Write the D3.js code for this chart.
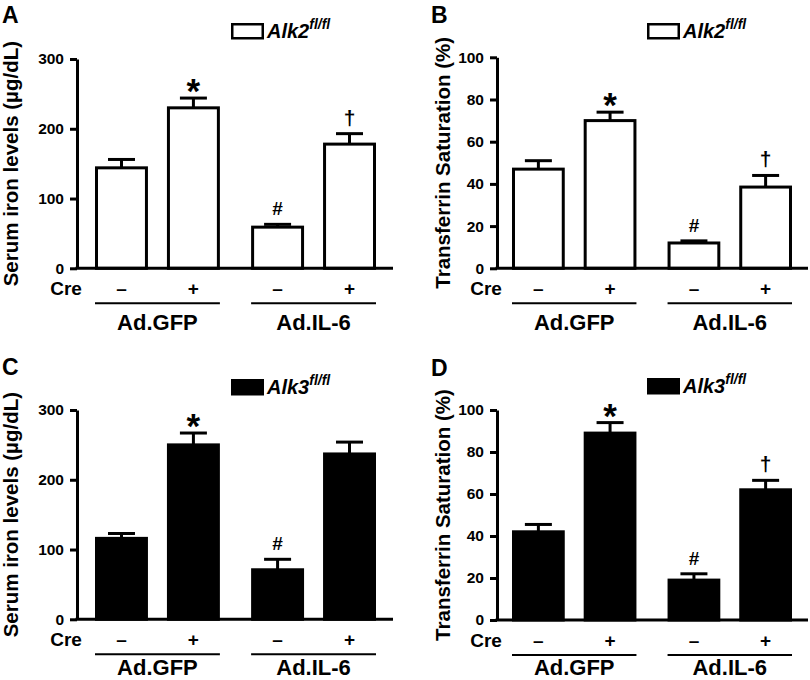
<!DOCTYPE html>
<html><head><meta charset="utf-8">
<script src="https://cdn.jsdelivr.net/npm/d3@7"></script>
<style>body{margin:0;background:#fff} text{font-family:"Liberation Sans",Arial,Helvetica,sans-serif;font-weight:bold;fill:#000}</style>
</head><body><svg id="c" width="810" height="680"></svg>
<script>
// ---- data ----
const groups = ["Ad.GFP", "Ad.IL-6"];
const creLevels = ["–", "+"];
const serumAlk2 = [144, 230, 59, 178];
const serumAlk2Err = [12, 14, 4, 15];
const tsatAlk2 = [47, 70, 12, 38.5];
const tsatAlk2Err = [4, 4, 1, 5.5];
const serumAlk3 = [116, 250, 71, 237];
const serumAlk3Err = [7, 17, 15, 17];
const tsatAlk3 = [42, 89, 19, 62];
const tsatAlk3Err = [3.5, 5, 3, 4.5];
const marksA = ["", "*", "#", "†"];
const marksB = ["", "*", "#", "†"];
const marksC = ["", "*", "#", ""];
const marksD = ["", "*", "#", "†"];
const serumTicks = [0, 100, 200, 300];
const tsatTicks = [0, 20, 40, 60, 80, 100];

// ---- layout ----
const panels = [
  {letter:"A", values:serumAlk2, errs:serumAlk2Err, marks:marksA, fill:"#fff", gene:"Alk2", ticks:serumTicks,
   title:"Serum iron levels (µg/dL)", ax:77, bx0:95, bx1:376, y0:268.3, yTop:59, xEnd:393, leg:[231,23], lp:[2,23], tx:18, gy:62},
  {letter:"B", values:tsatAlk2, errs:tsatAlk2Err, marks:marksB, fill:"#fff", gene:"Alk2", ticks:tsatTicks,
   title:"Transferrin Saturation (%)", ax:497, bx0:512, bx1:792, y0:268.3, yTop:57.3, xEnd:808, leg:[647,23], lp:[431,23], tx:450, gy:62},
  {letter:"C", values:serumAlk3, errs:serumAlk3Err, marks:marksC, fill:"#000", gene:"Alk3", ticks:serumTicks,
   title:"Serum iron levels (µg/dL)", ax:77, bx0:95, bx1:376, y0:619.3, yTop:410, xEnd:393, leg:[231,379], lp:[2,375], tx:18, gy:56},
  {letter:"D", values:tsatAlk3, errs:tsatAlk3Err, marks:marksD, fill:"#000", gene:"Alk3", ticks:tsatTicks,
   title:"Transferrin Saturation (%)", ax:497, bx0:512, bx1:792, y0:620, yTop:410, xEnd:808, leg:[647,378], lp:[431,376], tx:450, gy:55}
];

const svg = d3.select("#c");

panels.forEach(p => {
  const g = svg.append("g");
  const y = d3.scaleLinear().domain([0, d3.max(p.ticks)]).range([p.y0, p.yTop]);
  const xG = d3.scaleBand().domain(groups).range([p.bx0, p.bx1]).paddingInner(0.2);
  const xC = d3.scaleBand().domain(creLevels).range([0, xG.bandwidth()]).paddingInner(0.264);
  const bw = xC.bandwidth();
  const rows = p.values.map((v, i) => ({v, e:p.errs[i], m:p.marks[i], grp:groups[Math.floor(i/2)], cre:creLevels[i%2]}));
  const cx = d => xG(d.grp) + xC(d.cre) + bw/2;

  // error bars (upward only)
  g.selectAll(".eb").data(rows).enter().append("line")
    .attr("x1", cx).attr("x2", cx).attr("y1", d => y(d.v)).attr("y2", d => y(d.v + d.e))
    .attr("stroke", "#000").attr("stroke-width", 3);
  g.selectAll(".cap").data(rows).enter().append("line")
    .attr("x1", d => cx(d) - 13.5).attr("x2", d => cx(d) + 13.5)
    .attr("y1", d => y(d.v + d.e)).attr("y2", d => y(d.v + d.e))
    .attr("stroke", "#000").attr("stroke-width", 3);

  // bars
  g.selectAll(".bar").data(rows).enter().append("rect")
    .attr("x", d => xG(d.grp) + xC(d.cre) + 1.5).attr("width", bw - 3)
    .attr("y", d => y(d.v)).attr("height", d => p.y0 - y(d.v))
    .attr("fill", p.fill).attr("stroke", "#000").attr("stroke-width", 3);

  // significance marks
  const markStyle = {"*":{fs:35, off:5}, "#":{fs:19, off:-9}, "†":{fs:21, off:-9}};
  g.selectAll(".mk").data(rows.filter(d => d.m)).enter().append("text")
    .attr("x", cx).attr("y", d => y(d.v + d.e) + markStyle[d.m].off)
    .attr("text-anchor", "middle").style("font-size", d => markStyle[d.m].fs + "px").text(d => d.m);

  // y axis
  const ya = g.append("g").attr("transform", `translate(${p.ax},0)`)
    .call(d3.axisLeft(y).tickValues(p.ticks).tickSize(7).tickSizeOuter(0).tickPadding(6).tickFormat(d3.format("d")));
  ya.select(".domain").attr("stroke-width", 3).attr("stroke", "#000");
  ya.selectAll(".tick line").attr("stroke-width", 3).attr("stroke", "#000");
  ya.selectAll(".tick text").style("font-size", "15.5px").style("font-family", '"Liberation Sans",Arial,sans-serif').style("font-weight", "bold");

  // x axis baseline
  g.append("line").attr("x1", p.ax - 1.5).attr("x2", p.xEnd).attr("y1", p.y0).attr("y2", p.y0)
    .attr("stroke", "#000").attr("stroke-width", 3);

  // Cre row
  g.append("text").attr("x", p.ax - 11).attr("y", p.y0 + 27).attr("text-anchor", "middle")
    .style("font-size", "19px").text("Cre");
  g.selectAll(".cre").data(rows).enter().append("text")
    .attr("x", cx).attr("y", p.y0 + 27).attr("text-anchor", "middle")
    .style("font-size", "19px").text(d => d.cre);

  // group lines & labels
  g.selectAll(".gl").data(groups).enter().append("line")
    .attr("x1", d => xG(d)).attr("x2", d => xG(d) + xG.bandwidth())
    .attr("y1", p.y0 + 35).attr("y2", p.y0 + 35).attr("stroke", "#000").attr("stroke-width", 2);
  g.selectAll(".glab").data(groups).enter().append("text")
    .attr("x", d => xG(d) + xG.bandwidth()/2).attr("y", p.y0 + p.gy).attr("text-anchor", "middle")
    .style("font-size", "22px").text(d => d);

  // y title
  g.append("text").attr("transform", `translate(${p.tx},${(p.y0 + p.yTop)/2}) rotate(-90)`)
    .attr("text-anchor", "middle").style("font-size", "20.5px").text(p.title);

  // panel letter
  g.append("text").attr("x", p.lp[0]).attr("y", p.lp[1]).style("font-size", "23px").text(p.letter);

  // legend
  g.append("rect").attr("x", p.leg[0] + 1.25).attr("y", p.leg[1] + 1.25).attr("width", 30.5).attr("height", 14)
    .attr("fill", p.fill).attr("stroke", "#000").attr("stroke-width", 2.5);
  const lt = g.append("text").attr("x", p.leg[0] + 36).attr("y", p.leg[1] + 15)
    .style("font-size", "20px").style("font-style", "italic");
  lt.append("tspan").text(p.gene);
  lt.append("tspan").attr("dy", -9).style("font-size", "14px").text("fl/fl");
});
</script></body></html>
